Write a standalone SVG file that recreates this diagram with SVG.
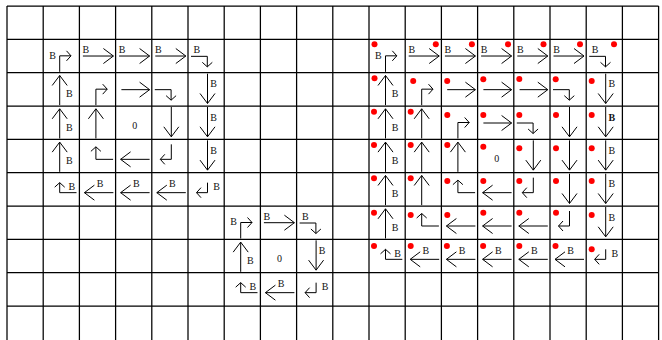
<svg xmlns="http://www.w3.org/2000/svg" xmlns:xlink="http://www.w3.org/1999/xlink" width="662" height="340" viewBox="0 0 662 340">
<style>
.grid{stroke:#000;stroke-width:1.25;fill:none}
.ar{stroke:#000;stroke-width:1;fill:none}
.big{marker-end:url(#ah)}
.sm{marker-end:url(#as)}
.t{font-family:"Liberation Serif","Times New Roman",serif;font-size:10px;fill:#111}
.z{text-anchor:middle}
.dot{fill:#ff0000}
</style>
<defs>
<marker id="ah" viewBox="-11 -9 12 18" refX="0" refY="0" markerWidth="12" markerHeight="18" markerUnits="userSpaceOnUse" orient="auto"><path d="M-10,-7.5 L0,0 L-10,7.5" fill="none" stroke="#000" stroke-width="1"/></marker>
<marker id="as" viewBox="-6 -6 7 12" refX="0" refY="0" markerWidth="7" markerHeight="12" markerUnits="userSpaceOnUse" orient="auto"><path d="M-4.5,-5 L0,0 L-4.5,5" fill="none" stroke="#000" stroke-width="1"/></marker>
<g id="R"><path class="ar big" d="M5.8,17 H34"/></g>
<g id="RB"><path class="ar big" d="M3.5,16.7 H34"/><text class="t" x="3.2" y="14">B</text></g>
<g id="L"><path class="ar big" d="M34,20 H5"/></g>
<g id="LB"><path class="ar big" d="M34,20 H5"/><text class="t" x="17.3" y="14.5">B</text></g>
<g id="U"><path class="ar big" d="M16.5,32.5 V2.8"/></g>
<g id="UB"><path class="ar big" d="M16.5,32.5 V2.8"/><text class="t" x="22.8" y="24.7">B</text></g>
<g id="D"><path class="ar big" d="M19.5,1 V30.8"/></g>
<g id="DB"><path class="ar big" d="M19.5,1 V30.8"/><text class="t" x="22.2" y="14.7">B</text></g>
<g id="UR"><path class="ar sm" d="M16.5,32.5 V16.5 H27.8"/></g>
<g id="BUR"><path class="ar sm" d="M16.5,32.5 V16.5 H27.8"/><text class="t" x="6" y="19.2">B</text></g>
<g id="RD"><path class="ar sm" d="M3,17 H19.3 V27.5"/></g>
<g id="BRD"><path class="ar sm" d="M3,17 H19.3 V27.5"/><text class="t" x="5.5" y="14">B</text></g>
<g id="LU"><path class="ar sm" d="M33.7,20 H16.5 V7.5"/></g>
<g id="LUB"><path class="ar sm" d="M33.3,20 H16.5 V10"/><text class="t" x="25.3" y="17.2">B</text></g>
<g id="DL"><path class="ar sm" d="M19.5,5 V20 H8.5"/></g>
<g id="DLB"><path class="ar sm" d="M19.5,10 V20 H8.5"/><text class="t" x="25.2" y="17.2">B</text></g>
<g id="Z"><text class="t z" x="19.2" y="22.5">0</text></g>
</defs>
<g id="grid" class="grid">
<path d="M7,6V340 M43.2,6V340 M79.4,6V340 M115.6,6V340 M151.8,6V340 M188,6V340 M224.2,6V340 M260.4,6V340 M296.6,6V340 M332.8,6V340 M369,6V340 M405.2,6V340 M441.4,6V340 M477.6,6V340 M513.8,6V340 M550,6V340 M586.2,6V340 M622.4,6V340 M658.6,6V340"/>
<path d="M7,6H658.6 M7,39.33H658.6 M7,72.67H658.6 M7,106H658.6 M7,139.33H658.6 M7,172.67H658.6 M7,206H658.6 M7,239.33H658.6 M7,272.67H658.6 M7,306H658.6"/>
</g>
<g id="spiral-5">
<g id="a-1-1" transform="translate(43.2,39.33)"><use href="#BUR"/></g>
<g id="a-1-2" transform="translate(79.4,39.33)"><use href="#RB"/></g>
<g id="a-1-3" transform="translate(115.6,39.33)"><use href="#RB"/></g>
<g id="a-1-4" transform="translate(151.8,39.33)"><use href="#RB"/></g>
<g id="a-1-5" transform="translate(188,39.33)"><use href="#BRD"/></g>
<g id="a-2-1" transform="translate(43.2,72.67)"><use href="#UB"/></g>
<g id="a-2-2" transform="translate(79.4,72.67)"><use href="#UR"/></g>
<g id="a-2-3" transform="translate(115.6,72.67)"><use href="#R"/></g>
<g id="a-2-4" transform="translate(151.8,72.67)"><use href="#RD"/></g>
<g id="a-2-5" transform="translate(188,72.67)"><use href="#DB"/></g>
<g id="a-3-1" transform="translate(43.2,106)"><use href="#UB"/></g>
<g id="a-3-2" transform="translate(79.4,106)"><use href="#U"/></g>
<g id="a-3-3" transform="translate(115.6,106)"><use href="#Z"/></g>
<g id="a-3-4" transform="translate(151.8,106)"><use href="#D"/></g>
<g id="a-3-5" transform="translate(188,106)"><use href="#DB"/></g>
<g id="a-4-1" transform="translate(43.2,139.33)"><use href="#UB"/></g>
<g id="a-4-2" transform="translate(79.4,139.33)"><use href="#LU"/></g>
<g id="a-4-3" transform="translate(115.6,139.33)"><use href="#L"/></g>
<g id="a-4-4" transform="translate(151.8,139.33)"><use href="#DL"/></g>
<g id="a-4-5" transform="translate(188,139.33)"><use href="#DB"/></g>
<g id="a-5-1" transform="translate(43.2,172.67)"><use href="#LUB"/></g>
<g id="a-5-2" transform="translate(79.4,172.67)"><use href="#LB"/></g>
<g id="a-5-3" transform="translate(115.6,172.67)"><use href="#LB"/></g>
<g id="a-5-4" transform="translate(151.8,172.67)"><use href="#LB"/></g>
<g id="a-5-5" transform="translate(188,172.67)"><use href="#DLB"/></g>
</g>
<g id="spiral-3">
<g id="b-1-1" transform="translate(224.2,206)"><use href="#BUR"/></g>
<g id="b-1-2" transform="translate(260.4,206)"><use href="#RB"/></g>
<g id="b-1-3" transform="translate(296.6,206)"><use href="#BRD"/></g>
<g id="b-2-1" transform="translate(224.2,239.33)"><use href="#UB"/></g>
<g id="b-2-2" transform="translate(260.4,239.33)"><use href="#Z"/></g>
<g id="b-2-3" transform="translate(296.6,239.33)"><use href="#DB"/></g>
<g id="b-3-1" transform="translate(224.2,272.67)"><use href="#LUB"/></g>
<g id="b-3-2" transform="translate(260.4,272.67)"><use href="#LB"/></g>
<g id="b-3-3" transform="translate(296.6,272.67)"><use href="#DLB"/></g>
</g>
<g id="spiral-7">
<g id="c-1-1" transform="translate(369,39.33)"><use href="#BUR"/><circle class="dot" cx="5.5" cy="5" r="3"/></g>
<g id="c-1-2" transform="translate(405.2,39.33)"><use href="#RB"/><circle class="dot" cx="30.6" cy="5" r="3"/></g>
<g id="c-1-3" transform="translate(441.4,39.33)"><use href="#RB"/><circle class="dot" cx="30.5" cy="5" r="3"/></g>
<g id="c-1-4" transform="translate(477.6,39.33)"><use href="#RB"/><circle class="dot" cx="30.4" cy="5" r="3"/></g>
<g id="c-1-5" transform="translate(513.8,39.33)"><use href="#RB"/><circle class="dot" cx="29.7" cy="5" r="3"/></g>
<g id="c-1-6" transform="translate(550,39.33)"><use href="#RB"/><circle class="dot" cx="30" cy="5" r="3"/></g>
<g id="c-1-7" transform="translate(586.2,39.33)"><use href="#BRD"/><circle class="dot" cx="27.8" cy="5" r="3"/></g>
<g id="c-2-1" transform="translate(369,72.67)"><use href="#UB"/><circle class="dot" cx="5.5" cy="5.6" r="3"/></g>
<g id="c-2-2" transform="translate(405.2,72.67)"><use href="#UR"/><circle class="dot" cx="8" cy="8.3" r="3"/></g>
<g id="c-2-3" transform="translate(441.4,72.67)"><use href="#R"/><circle class="dot" cx="5.8" cy="8.3" r="3"/></g>
<g id="c-2-4" transform="translate(477.6,72.67)"><use href="#R"/><circle class="dot" cx="5.7" cy="6.5" r="3"/></g>
<g id="c-2-5" transform="translate(513.8,72.67)"><use href="#R"/><circle class="dot" cx="5.5" cy="6.3" r="3"/></g>
<g id="c-2-6" transform="translate(550,72.67)"><use href="#RD"/><circle class="dot" cx="5.7" cy="6.5" r="3"/></g>
<g id="c-2-7" transform="translate(586.2,72.67)"><use href="#DB"/><circle class="dot" cx="5.5" cy="8.3" r="3"/></g>
<g id="c-3-1" transform="translate(369,106)"><use href="#UB"/><circle class="dot" cx="5" cy="5.7" r="3"/></g>
<g id="c-3-2" transform="translate(405.2,106)"><use href="#U"/><circle class="dot" cx="5.5" cy="5.7" r="3"/></g>
<g id="c-3-3" transform="translate(441.4,106)"><use href="#UR"/><circle class="dot" cx="5.9" cy="9" r="3"/></g>
<g id="c-3-4" transform="translate(477.6,106)"><use href="#R"/><circle class="dot" cx="5.7" cy="9" r="3"/></g>
<g id="c-3-5" transform="translate(513.8,106)"><use href="#RD"/><circle class="dot" cx="5.5" cy="9" r="3"/></g>
<g id="c-3-6" transform="translate(550,106)"><use href="#D"/><circle class="dot" cx="6" cy="9" r="3"/></g>
<g id="c-3-7" transform="translate(586.2,106)"><use href="#D"/><text class="t" x="22.2" y="14.7" font-weight="bold">B</text><circle class="dot" cx="5.5" cy="9" r="3"/></g>
<g id="c-4-1" transform="translate(369,139.33)"><use href="#UB"/><circle class="dot" cx="5" cy="5.7" r="3"/></g>
<g id="c-4-2" transform="translate(405.2,139.33)"><use href="#U"/><circle class="dot" cx="5.5" cy="5.7" r="3"/></g>
<g id="c-4-3" transform="translate(441.4,139.33)"><use href="#U"/><circle class="dot" cx="5.9" cy="5.7" r="3"/></g>
<g id="c-4-4" transform="translate(477.6,139.33)"><use href="#Z"/><circle class="dot" cx="5.7" cy="7.4" r="3"/></g>
<g id="c-4-5" transform="translate(513.8,139.33)"><use href="#D"/><circle class="dot" cx="5.5" cy="9" r="3"/></g>
<g id="c-4-6" transform="translate(550,139.33)"><use href="#D"/><circle class="dot" cx="6" cy="9" r="3"/></g>
<g id="c-4-7" transform="translate(586.2,139.33)"><use href="#DB"/><circle class="dot" cx="5.5" cy="9" r="3"/></g>
<g id="c-5-1" transform="translate(369,172.67)"><use href="#UB"/><circle class="dot" cx="5" cy="5.6" r="3"/></g>
<g id="c-5-2" transform="translate(405.2,172.67)"><use href="#U"/><circle class="dot" cx="5.5" cy="5.6" r="3"/></g>
<g id="c-5-3" transform="translate(441.4,172.67)"><use href="#LU"/><circle class="dot" cx="5.9" cy="8.3" r="3"/></g>
<g id="c-5-4" transform="translate(477.6,172.67)"><use href="#L"/><circle class="dot" cx="5.7" cy="8.3" r="3"/></g>
<g id="c-5-5" transform="translate(513.8,172.67)"><use href="#DL"/><circle class="dot" cx="5.5" cy="8.3" r="3"/></g>
<g id="c-5-6" transform="translate(550,172.67)"><use href="#D"/><circle class="dot" cx="6" cy="8.3" r="3"/></g>
<g id="c-5-7" transform="translate(586.2,172.67)"><use href="#DB"/><circle class="dot" cx="5.5" cy="8.3" r="3"/></g>
<g id="c-6-1" transform="translate(369,206)"><use href="#UB"/><circle class="dot" cx="5" cy="6.7" r="3"/></g>
<g id="c-6-2" transform="translate(405.2,206)"><use href="#LU"/><circle class="dot" cx="5.5" cy="9" r="3"/></g>
<g id="c-6-3" transform="translate(441.4,206)"><use href="#L"/><circle class="dot" cx="5.9" cy="9" r="3"/></g>
<g id="c-6-4" transform="translate(477.6,206)"><use href="#L"/><circle class="dot" cx="5.7" cy="6.7" r="3"/></g>
<g id="c-6-5" transform="translate(513.8,206)"><use href="#L"/><circle class="dot" cx="5.5" cy="6.7" r="3"/></g>
<g id="c-6-6" transform="translate(550,206)"><use href="#DL"/><circle class="dot" cx="6" cy="6.7" r="3"/></g>
<g id="c-6-7" transform="translate(586.2,206)"><use href="#DB"/><circle class="dot" cx="5.5" cy="9" r="3"/></g>
<g id="c-7-1" transform="translate(369,239.33)"><use href="#LUB"/><circle class="dot" cx="5" cy="6.7" r="3"/></g>
<g id="c-7-2" transform="translate(405.2,239.33)"><use href="#LB"/><circle class="dot" cx="5.5" cy="6.7" r="3"/></g>
<g id="c-7-3" transform="translate(441.4,239.33)"><use href="#LB"/><circle class="dot" cx="5.5" cy="6.7" r="3"/></g>
<g id="c-7-4" transform="translate(477.6,239.33)"><use href="#LB"/><circle class="dot" cx="5.5" cy="6.7" r="3"/></g>
<g id="c-7-5" transform="translate(513.8,239.33)"><use href="#LB"/><circle class="dot" cx="5.5" cy="6.7" r="3"/></g>
<g id="c-7-6" transform="translate(550,239.33)"><use href="#LB"/><circle class="dot" cx="5.5" cy="6.7" r="3"/></g>
<g id="c-7-7" transform="translate(586.2,239.33)"><use href="#DLB"/><circle class="dot" cx="5.5" cy="10" r="3"/></g>
</g>
</svg>
